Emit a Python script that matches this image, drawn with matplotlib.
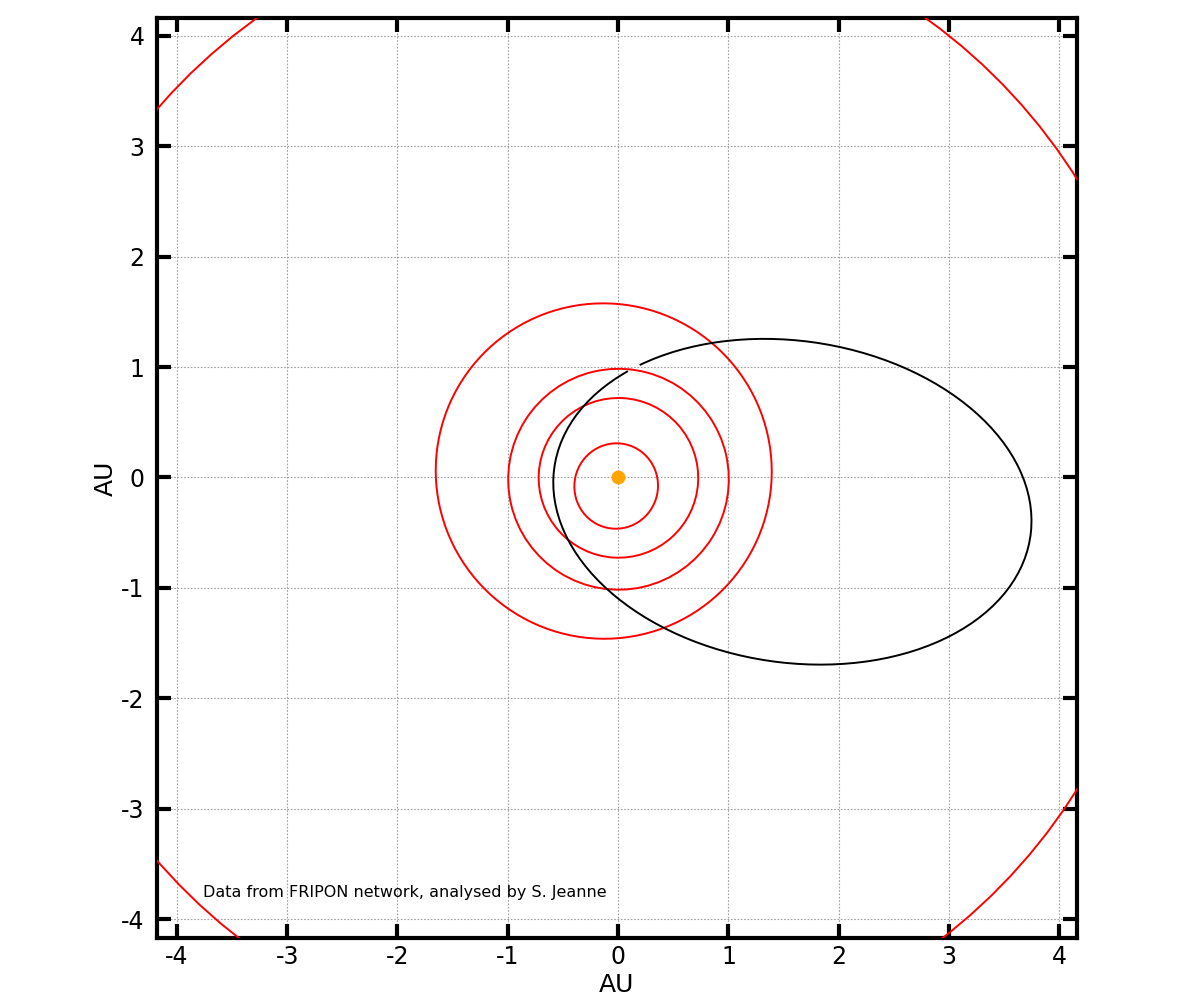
import matplotlib
matplotlib.use("Agg")

import numpy as np
import matplotlib.pyplot as plt
from matplotlib.patches import Ellipse, Arc

plt.rcParams["axes.unicode_minus"] = False

# planetary orbits: Mercury, Venus, Earth, Mars, Jupiter
planets = ["Mercury", "Venus", "Earth", "Mars", "Jupiter"]
semi_major = [0.387, 0.723, 1.000, 1.524, 5.203]        # AU
eccentricity = [0.2056, 0.0068, 0.0167, 0.0934, 0.0489]
peri_long = [77.5, 131.5, 102.9, 336.0, 14.7]           # deg

# meteoroid orbit projected on the ecliptic
met_center = (1.58, -0.22)
met_axes = (2.18, 1.456)        # semi-axes, AU
met_angle = -8.3                # deg
met_arc = (149.9, 506.5)        # drawn part, deg

ticks = [-4, -3, -2, -1, 0, 1, 2, 3, 4]
note = "Data from FRIPON network, analysed by S. Jeanne"

fig = plt.figure(figsize=(12, 10), dpi=100)
ax = fig.add_axes([0.1308, 0.062, 0.7667, 0.920])

for a, e, w in zip(semi_major, eccentricity, peri_long):
    b = a * np.sqrt(1 - e ** 2)
    wr = np.radians(w)
    cx, cy = -a * e * np.cos(wr), -a * e * np.sin(wr)
    ax.add_patch(Ellipse((cx, cy), 2 * a, 2 * b, angle=w, fill=False,
                         edgecolor="#ff0000", linewidth=1.4, zorder=3))

ax.add_patch(Arc(met_center, 2 * met_axes[0], 2 * met_axes[1], angle=met_angle,
                 theta1=met_arc[0], theta2=met_arc[1], edgecolor="black",
                 linewidth=1.4, zorder=3))

ax.plot([0], [0], "o", color="#ffa500", markersize=9, zorder=4)

ax.set_xlim(-4.18, 4.16)
ax.set_ylim(-4.17, 4.16)
ax.set_xticks(ticks)
ax.set_yticks(ticks)
ax.tick_params(direction="in", length=10, width=3, labelsize=17,
               top=True, right=True)
ax.tick_params(axis="x", pad=5)
ax.tick_params(axis="y", pad=9)
for s in ax.spines.values():
    s.set_linewidth(3)
ax.grid(True, color="#a0a0a0", linestyle=(0, (1.5, 1.5)), linewidth=0.8)
ax.set_axisbelow(True)

ax.set_xlabel("AU", fontsize=18, labelpad=3)
ax.set_ylabel("AU", fontsize=18, labelpad=2)

ax.text(-3.764, -3.80, note, fontsize=11.5, va="baseline")

fig.savefig("out.png", dpi=100)
